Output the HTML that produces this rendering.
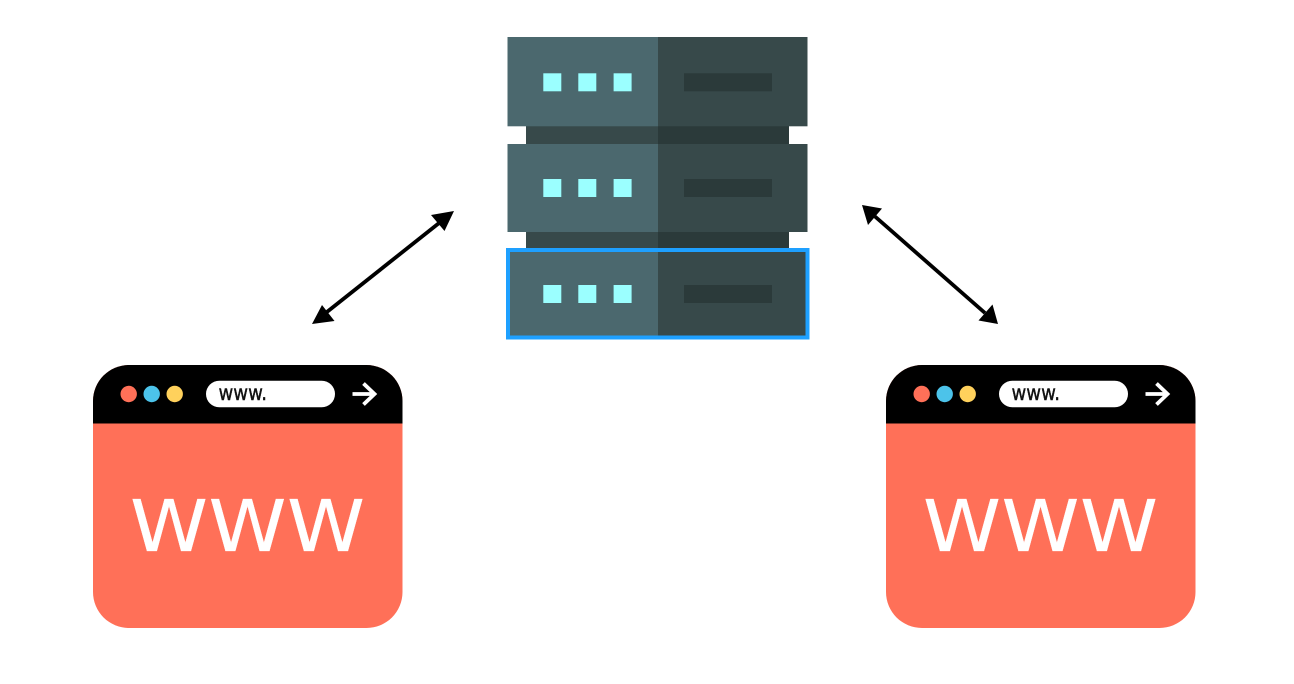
<!DOCTYPE html>
<html>
<head>
<meta charset="utf-8">
<style>
html,body{margin:0;padding:0;background:#fff;width:1294px;height:684px;overflow:hidden}
svg{display:block}
</style>
</head>
<body>
<svg width="1294" height="684" viewBox="0 0 1294 684" xmlns="http://www.w3.org/2000/svg">
<defs>
  <g id="b">
    <path d="M129 365H366.500A36 36 0 0 1 402.500 401V592A36 36 0 0 1 366.500 628H129A36 36 0 0 1 93 592V401A36 36 0 0 1 129 365Z" fill="#FF7058"/>
    <path d="M129 365H366.500A36 36 0 0 1 402.500 401V423.500H93V401A36 36 0 0 1 129 365Z" fill="#000"/>
    <circle cx="128.700" cy="394" r="8.200" fill="#FF7058"/>
    <circle cx="151.700" cy="394" r="8.200" fill="#4CC3EA"/>
    <circle cx="174.700" cy="394" r="8.200" fill="#FFD15C"/>
    <rect x="206" y="380.700" width="129" height="26.600" rx="13.300" fill="#fff"/>
    <text x="218.500" y="400" font-family="'DejaVu Sans',sans-serif" font-size="21" stroke="#111" stroke-width="0.400" textLength="48.500" lengthAdjust="spacingAndGlyphs" fill="#111">www.</text>
    <path d="M352.500 394H374M363.500 383.500L374.500 394L363.500 404.500" fill="none" stroke="#fff" stroke-width="3.800"/>
    <g transform="translate(132 551) scale(1.110 1)" font-family="'DejaVu Sans',sans-serif" font-size="71" fill="#fff" stroke="#fff" stroke-width="0.300">
      <text x="-1.800" y="0">W</text>
      <text x="68.900" y="0">W</text>
      <text x="139.600" y="0">W</text>
    </g>
  </g>
</defs>
<rect x="526" y="126" width="132" height="124" fill="#37494A"/>
<rect x="658" y="126" width="131" height="124" fill="#2B3A3A"/>

<rect x="507.500" y="37" width="150.500" height="89.300" fill="#4B686E"/>
<rect x="658" y="37" width="149.500" height="89.300" fill="#37494A"/>
<rect x="543.300" y="73.300" width="18" height="18" fill="#9BFFFF"/>
<rect x="578.300" y="73.300" width="18" height="18" fill="#9BFFFF"/>
<rect x="613.600" y="73.300" width="18" height="18" fill="#9BFFFF"/>
<rect x="684" y="73.300" width="88" height="18" fill="#2B3A3A"/>

<rect x="507.500" y="144" width="150.500" height="88" fill="#4B686E"/>
<rect x="658" y="144" width="149.500" height="88" fill="#37494A"/>
<rect x="543.300" y="179" width="18" height="18" fill="#9BFFFF"/>
<rect x="578.300" y="179" width="18" height="18" fill="#9BFFFF"/>
<rect x="613.600" y="179" width="18" height="18" fill="#9BFFFF"/>
<rect x="684" y="179" width="88" height="18" fill="#2B3A3A"/>

<rect x="507.500" y="250" width="150.500" height="88" fill="#4B686E"/>
<rect x="658" y="250" width="149.500" height="88" fill="#37494A"/>
<rect x="543.300" y="285" width="18" height="18" fill="#9BFFFF"/>
<rect x="578.300" y="285" width="18" height="18" fill="#9BFFFF"/>
<rect x="613.600" y="285" width="18" height="18" fill="#9BFFFF"/>
<rect x="684" y="285" width="88" height="18" fill="#2B3A3A"/>
<rect x="508" y="250" width="299.500" height="87.500" fill="none" stroke="#1EA0FF" stroke-width="4"/>

<line x1="325" y1="313.500" x2="441" y2="221.500" stroke="#000" stroke-width="3.800"/>
<polygon points="312,324 322,305 334.500,321" fill="#000"/>
<polygon points="454,211 431,215 444.500,231" fill="#000"/>
<line x1="875" y1="216.500" x2="985" y2="313" stroke="#000" stroke-width="3.800"/>
<polygon points="862,205 882,208.500 868,225" fill="#000"/>
<polygon points="998,324 992.500,304.500 978.500,320.500" fill="#000"/>

<use href="#b"/>
<use href="#b" transform="translate(793 0)"/>
</svg>
</body>
</html>
